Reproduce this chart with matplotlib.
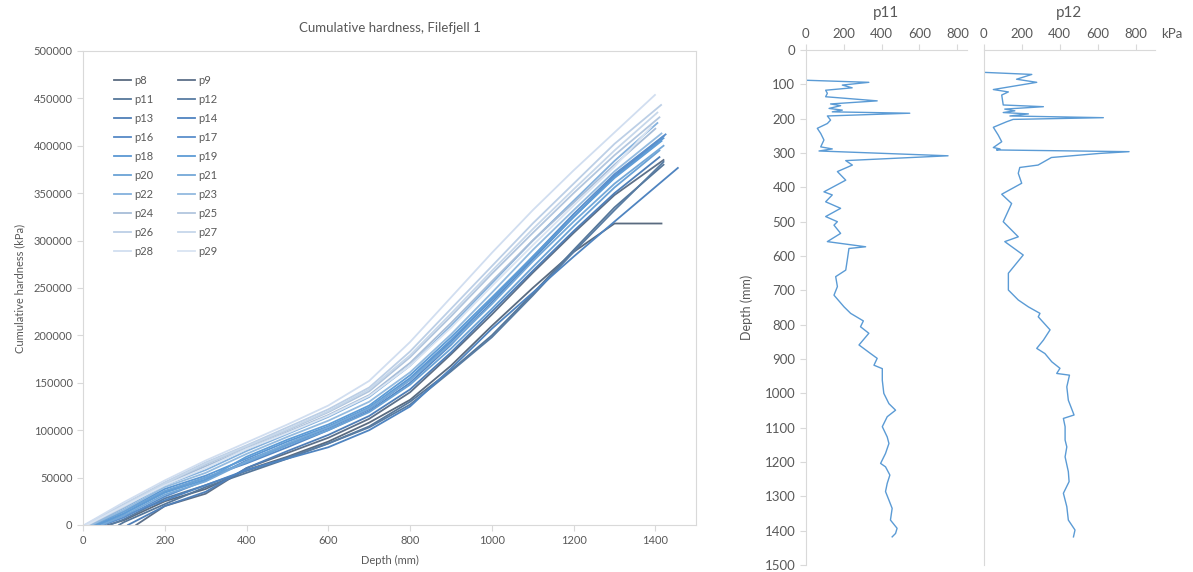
import numpy as np
import matplotlib.pyplot as plt

plt.rcParams['font.family'] = ['Lato', 'DejaVu Sans']

# cumulative hardness curves (kPa)
series_names = ['p8', 'p9', 'p11', 'p12', 'p13', 'p14', 'p16', 'p17', 'p18', 'p19',
                'p20', 'p21', 'p22', 'p23', 'p24', 'p25', 'p26', 'p27', 'p28', 'p29']
series_colors = ['#5a6b80', '#5d7089', '#56779a', '#587ca3', '#4f7fb8', '#4f84c0',
                 '#5689c6', '#5a8fcc', '#5b97d3', '#5e9cd6', '#6aa2d6', '#74a8d8',
                 '#84b1dd', '#93badf', '#a7bdd8', '#b2c6de', '#bccfe6', '#c6d7ea',
                 '#d1def0', '#d9e4f2']
start_depth = [60, 130, 88, 65, 110, 40, 30, 50, 20, 35, 25, 45, 15, 20, 10, 12, 5, 8, 3, 10]
grid_depth = [100, 200, 300, 400, 500, 600, 700, 800, 900, 1000, 1100, 1200, 1300]
grid_value = [
    [5, 25, 38, 58, 72, 88, 108, 132, 168, 210, 250, 288, 318],
    [None, 20, 33, 60, 76, 92, 112, 140, 180, 222, 266, 308, 348],
    [3, 22, 40, 55, 70, 86, 104, 130, 163, 200, 244, 290, 335],
    [6, 28, 42, 57, 71, 86, 103, 127, 162, 198, 242, 288, 332],
    [None, 20, 35, 60, 78, 95, 115, 143, 182, 225, 268, 310, 350],
    [10, 26, 42, 58, 70, 82, 100, 125, 165, 207, 245, 283, 320],
    [12, 35, 50, 65, 82, 100, 120, 150, 190, 235, 280, 325, 368],
    [8, 30, 47, 68, 85, 102, 122, 153, 193, 238, 283, 328, 370],
    [15, 38, 52, 70, 88, 104, 124, 155, 195, 238, 282, 325, 367],
    [12, 34, 48, 72, 90, 106, 126, 158, 198, 240, 283, 325, 366],
    [14, 36, 50, 66, 84, 100, 119, 148, 186, 228, 272, 315, 356],
    [10, 32, 46, 67, 86, 103, 123, 153, 191, 233, 278, 320, 360],
    [18, 42, 58, 78, 96, 114, 135, 168, 210, 255, 300, 342, 384],
    [16, 40, 55, 75, 93, 110, 130, 161, 201, 245, 290, 332, 373],
    [20, 43, 62, 80, 98, 116, 137, 171, 213, 257, 300, 340, 380],
    [19, 44, 64, 82, 100, 119, 141, 177, 220, 265, 308, 350, 390],
    [22, 45, 66, 84, 103, 122, 145, 183, 228, 273, 318, 360, 402],
    [21, 44, 65, 83, 101, 120, 143, 179, 223, 268, 312, 354, 395],
    [24, 47, 68, 87, 106, 126, 152, 193, 240, 287, 332, 374, 414],
    [20, 42, 60, 80, 97, 115, 136, 168, 208, 252, 295, 337, 378],
]
end_depth = [1415, 1420, 1420, 1420, 1410, 1455, 1420, 1425, 1420, 1415,
             1410, 1420, 1405, 1415, 1400, 1410, 1414, 1405, 1399, 1390]
end_value = [318, 385, 380, 383, 388, 376.6, 410, 412, 408, 405,
             395, 400, 424, 413, 418, 430, 443, 435, 453.6, 420]

# hardness profiles p11 and p12 (depth mm, kPa)
p11_depth = [0, 88, 94, 102, 110, 117, 126, 136, 148, 157, 162, 170, 175, 180, 184, 192, 204,
             214, 228, 243, 262, 282, 288, 294, 308, 322, 335, 354, 379, 413, 422, 442, 461,
             485, 500, 510, 534, 558, 573, 578, 612, 641, 660, 689, 714, 748, 767, 789, 806,
             825, 859, 884, 898, 918, 928, 962, 1000, 1030, 1049, 1068, 1097, 1127, 1146,
             1175, 1204, 1214, 1238, 1262, 1286, 1311, 1335, 1369, 1393, 1408, 1418]
p11_kpa = [0, 3, 333, 193, 245, 105, 114, 105, 377, 131, 184, 123, 193, 140, 549, 114, 131,
           114, 61, 79, 96, 79, 140, 70, 751, 211, 246, 167, 211, 96, 140, 105, 184, 105, 167,
           149, 184, 114, 316, 228, 219, 211, 158, 167, 149, 202, 237, 304, 289, 333, 281, 342,
           377, 360, 404, 404, 412, 439, 474, 430, 404, 430, 439, 421, 395, 421, 444, 430, 421,
           439, 456, 447, 482, 474, 456]
p12_depth = [0, 65, 71, 85, 94, 115, 122, 131, 160, 165, 172, 177, 182, 186, 192, 197, 202,
             209, 225, 248, 267, 284, 288, 291, 296, 301, 313, 335, 342, 359, 388, 420, 447,
             500, 544, 558, 597, 650, 699, 728, 748, 767, 777, 815, 845, 869, 884, 908, 927,
             942, 947, 981, 1020, 1063, 1073, 1097, 1136, 1156, 1185, 1228, 1257, 1291, 1330,
             1369, 1398, 1418]
p12_kpa = [0, 2, 253, 173, 279, 51, 130, 95, 103, 314, 111, 164, 103, 235, 138, 629, 155, 120,
           51, 77, 95, 51, 86, 68, 764, 611, 356, 286, 190, 182, 200, 95, 147, 103, 182, 111,
           208, 130, 130, 182, 235, 296, 287, 349, 314, 279, 322, 358, 401, 384, 451, 437, 445,
           475, 419, 428, 428, 437, 428, 445, 449, 419, 437, 445, 480, 472]

fig = plt.figure(figsize=(11.93, 5.72), dpi=100)
grey = '#595959'
spine_c = '#d9d9d9'

ax = fig.add_axes([0.0696, 0.0822, 0.514, 0.8287])
handles = []
for i, name in enumerate(series_names):
    d = [start_depth[i]]
    v = [0]
    for gd, gv in zip(grid_depth, grid_value[i]):
        if gv is not None and gd > start_depth[i]:
            d.append(gd)
            v.append(gv * 1000)
    d.append(end_depth[i])
    v.append(end_value[i] * 1000)
    h, = ax.plot(d, v, color=series_colors[i], lw=1.3, label=name)
    handles.append(h)

ax.set_xlim(0, 1500)
ax.set_ylim(0, 500000)
ax.set_xticks(np.arange(0, 1401, 200))
ax.set_yticks(np.arange(0, 500001, 50000))
for s in ax.spines.values():
    s.set_color(spine_c)
ax.tick_params(colors=spine_c, labelcolor=grey, labelsize=8, length=4)
ax.set_title('Cumulative hardness, Filefjell 1', fontsize=9.5, color=grey, pad=14)
ax.set_xlabel('Depth (mm)', fontsize=8, color=grey, labelpad=6)
ax.set_ylabel('Cumulative hardness (kPa)', fontsize=8, color=grey, labelpad=6)

order = list(range(0, 20, 2)) + list(range(1, 20, 2))
ax.legend([handles[k] for k in order], [series_names[k] for k in order], ncol=2,
          loc='upper left', bbox_to_anchor=(0.035, 0.97), frameon=False, fontsize=8,
          handlelength=1.5, handletextpad=0.3, columnspacing=2.2, labelspacing=0.72,
          labelcolor=grey)

line_c = '#5b9bd5'


def profile(axp, depth, kpa, title, xmax, ylabels):
    axp.plot(kpa, depth, color=line_c, lw=1.0)
    axp.set_xlim(0, xmax)
    axp.set_ylim(1500, 0)
    axp.set_xticks(np.arange(0, 801, 200))
    axp.set_yticks(np.arange(0, 1501, 100))
    axp.xaxis.tick_top()
    axp.spines['right'].set_visible(False)
    axp.spines['bottom'].set_visible(False)
    axp.spines['top'].set_color(spine_c)
    axp.spines['left'].set_color(spine_c)
    axp.tick_params(colors=spine_c, labelcolor=grey, labelsize=9.5, length=4)
    if not ylabels:
        axp.tick_params(axis='y', left=False, labelleft=False)
    axp.set_title(title, fontsize=11, color=grey, pad=24)


ax11 = fig.add_axes([0.6754, 0.0122, 0.135, 0.9003])
profile(ax11, p11_depth, p11_kpa, 'p11', 850, True)
ax11.set_ylabel('Depth (mm)', fontsize=9, color=grey, labelpad=8)
ax12 = fig.add_axes([0.8245, 0.0122, 0.1436, 0.9003])
profile(ax12, p12_depth, p12_kpa, 'p12', 900, False)
fig.text(0.982, 0.94, 'kPa', fontsize=9.5, color=grey, ha='center', va='center')

fig.savefig('out.png', dpi=100)
